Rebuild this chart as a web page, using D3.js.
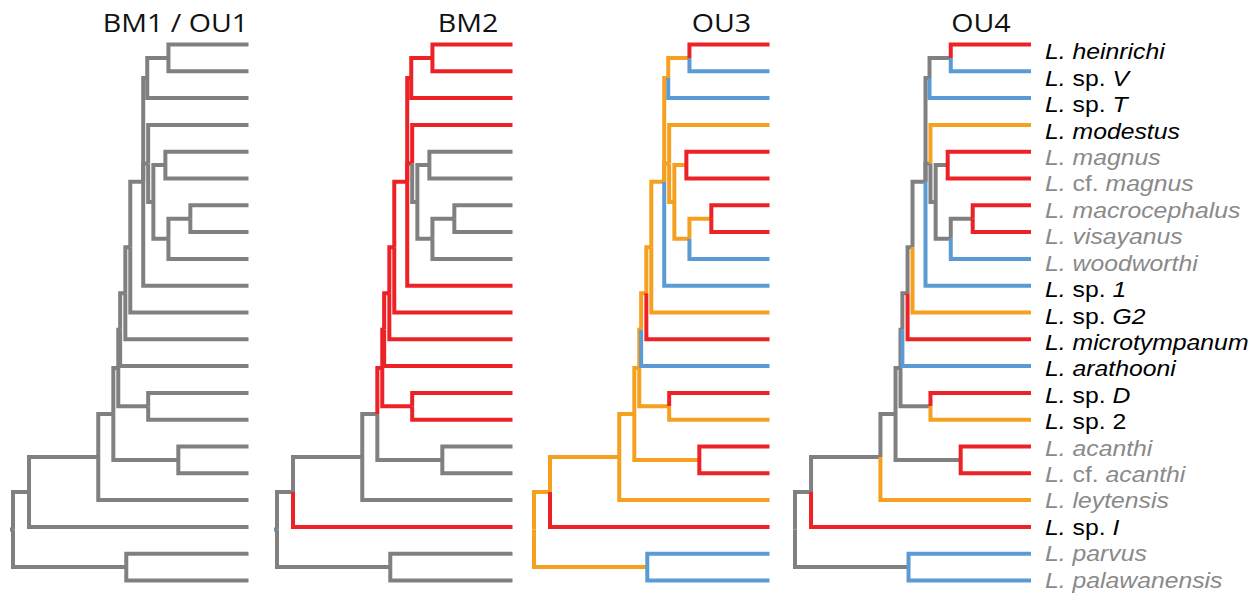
<!DOCTYPE html>
<html><head><meta charset="utf-8">
<script src="https://cdn.jsdelivr.net/npm/d3@7"></script>
<style>body{margin:0;background:#fff;overflow:hidden}</style>
</head><body>
<svg id="c" width="1258" height="598"></svg>
<script>
// ---------------- DATA ----------------
const panelTitles = ["BM1 / OU1", "BM2", "OU3", "OU4"];
const tipLabels = ["L. heinrichi","L. sp. V","L. sp. T","L. modestus","L. magnus","L. cf. magnus",
  "L. macrocephalus","L. visayanus","L. woodworthi","L. sp. 1","L. sp. G2","L. microtympanum",
  "L. arathooni","L. sp. D","L. sp. 2","L. acanthi","L. cf. acanthi","L. leytensis","L. sp. I",
  "L. parvus","L. palawanensis"];
// 1 = highlighted taxon, 0 = other taxon
const tipGroup = [1,1,1,1,0,0,0,0,0,1,1,1,1,1,1,0,0,0,1,0,0];
const tipIds = ["t1","t2","t3","t4","t5","t6","t7","t8","t9","t10","t11","t12","t13","t14","t15","t16","t17","t18","t19","t20","t21"];

// tree: node ids, parents, node depth (0 = root, 100 = present)
const nodeIds = ["root","N17","N16","N15","N14","N13","N12","N11","nC","nA","n12","t1","t2","t3","nB","t4",
  "n59","n56","t5","t6","n789","n78","t7","t8","t9","t10","t11","t12","t13","n1415","t14","t15",
  "n1617","t16","t17","t18","t19","n2021","t20","t21"];
const nodeParents = ["", "root","N17","N16","N15","N14","N13","N12","N11","nC","nA","n12","n12","nA","nC","nB",
  "nB","n59","n56","n56","n59","n789","n78","n78","n789","nC","N11","N12","N13","N14","n1415","n1415",
  "N15","n1617","n1617","N16","N17","root","n2021","n2021"];
const nodeDepths = [0, 6.8, 36.2, 42.6, 44.7, 45.5, 47.7, 49.8, 55.3, 57.0, 66.0, 100, 100, 100, 57.4, 100,
  59.6, 64.7, 100, 100, 66.0, 75.3, 100, 100, 100, 100, 100, 100, 100, 57.4, 100, 100,
  70.2, 100, 100, 100, 100, 48.1, 100, 100];

// regime of the branch leading to each node (0 background, 1, 2, 3), one array per model
const regimeBM1 = [0,0,0,0,0,0,0,0,0,0,0,0,0,0,0,0,0,0,0,0,0,0,0,0,0,0,0,0,0,0,0,0,0,0,0,0,0,0,0,0];
const regimeBM2 = [3,0,0,0,1,1,1,1,1,1,1,1,1,1,1,1,0,0,0,0,0,0,0,0,0,1,1,1,1,1,1,1,0,0,0,0,1,0,0,0];
const regimeOU3 = [2,2,2,2,2,2,2,2,2,2,2,1,3,3,2,2,2,2,1,1,2,2,1,1,3,3,2,1,3,2,1,2,2,1,1,2,1,2,3,3];
const regimeOU4 = [0,0,0,0,0,0,0,0,0,0,0,1,3,3,0,2,0,0,1,1,0,0,1,1,3,3,2,1,3,0,1,2,0,1,1,2,1,0,3,3];
const panelRegimes = [regimeBM1, regimeBM2, regimeOU3, regimeOU4];

// ---------------- LAYOUT ----------------
const regimeColor = d3.scaleOrdinal().domain([0,1,2,3]).range(["#808080","#ec2227","#f5a01e","#5b9bd5"]);
const panelRoot = [13, 277, 534, 795];
const panelTipEnd = [248.5, 512.5, 769.5, 1031];
const showStub = [true, true, false, false];
const titleCenter = [175.5, 468, 721.5, 981];

const svg = d3.select("#c");

const table = nodeIds.map((id,i)=>({id, parent: nodeParents[i] || null, depth: nodeDepths[i], idx: i}));
const root = d3.stratify().id(d=>d.id).parentId(d=>d.parent)(table);

const yTip = d3.scalePoint().domain(tipIds).range([44.5, 580.5]);
// y positions: tips from scale, internal nodes midpoint of first and last child
root.eachAfter(n => {
  if (!n.children) n.yy = yTip(n.id);
  else n.yy = (n.children[0].yy + n.children[n.children.length-1].yy) / 2;
});

panelRegimes.forEach((reg, p) => {
  const x = d3.scaleLinear().domain([0,100]).range([panelRoot[p], panelTipEnd[p]]);
  const g = svg.append("g");
  if (showStub[p]) {
    g.append("path")
      .attr("d", `M${x(0)-3},${root.yy}H${x(0)}`)
      .attr("stroke", regimeColor(reg[root.data.idx])).attr("stroke-width", 4).attr("fill","none");
  }
  root.each(n => {
    if (!n.parent) return;
    const px = x(n.parent.data.depth), py = n.parent.yy;
    g.append("path")
      .attr("d", `M${px},${py}V${n.yy}H${x(n.data.depth)}`)
      .attr("fill","none")
      .attr("stroke", regimeColor(reg[n.data.idx]))
      .attr("stroke-width", 4)
      .attr("stroke-linejoin","miter");
  });
  svg.append("text")
    .attr("transform", `translate(${titleCenter[p]},31.5) scale(1.1,1)`)
    .attr("text-anchor","middle")
    .attr("font-family","'Open Sans', 'Noto Sans', sans-serif")
    .attr("font-size", 26)
    .attr("fill","#111")
    .text(panelTitles[p]);
});

// labels
const yLab = d3.scalePoint().domain(tipLabels).range([59.3, 587.7]);
const labelColor = d3.scaleOrdinal().domain([1,0]).range(["#000","#8a8a8a"]);
tipLabels.forEach((lab,i) => {
  const t = svg.append("text")
    .attr("transform", `translate(1045,${yLab(lab)}) scale(1.125,1)`)
    .attr("font-family","'Liberation Sans', Arial, sans-serif")
    .attr("font-size", 22)
    .attr("fill", labelColor(tipGroup[i]));
  lab.split(" ").forEach((tok, k) => {
    const upright = (tok === "sp." || tok === "cf." || tok === "2");
    t.append("tspan")
      .attr("font-style", upright ? "normal" : "italic")
      .text((k ? " " : "") + tok);
  });
});
</script>
</body></html>
